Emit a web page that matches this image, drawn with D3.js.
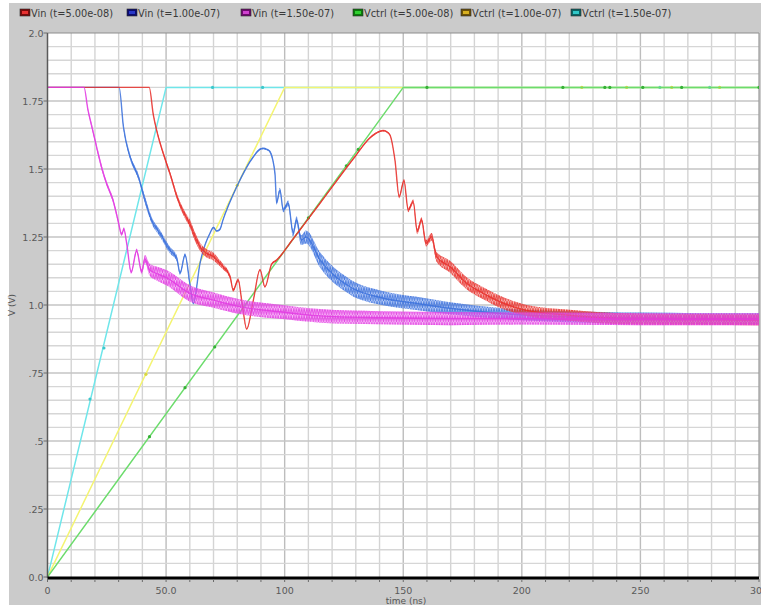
<!DOCTYPE html>
<html>
<head>
<meta charset="utf-8">
<script src="https://cdn.jsdelivr.net/npm/d3@7"></script>
<style>
  html, body { margin: 0; padding: 0; background: #ffffff; }
  svg { display: block; }
  text { font-family: "DejaVu Sans", Verdana, sans-serif; }
</style>
</head>
<body>
<svg id="chart" width="761" height="607"></svg>
<script>
// ---- transient waveforms (time in ns, voltage in V) ----

// Vin, 50 ns ramp case
const vinATime  = [0, 42.9, 44.6, 46.0, 48.8, 51.6, 55.1, 58.0, 60.0, 62.0, 64.3, 67.1, 70.0, 72.0, 74.0, 77.0, 78.3, 80.4, 82.0, 84.0, 86.8, 89.6, 91.7, 94.5, 96.6, 98.0, 102.2, 114.9, 129.6, 136.0, 140.0, 141.6, 143.0, 144.4, 146.5, 148.3, 150.3, 152.1, 154.2, 155.9, 157.7, 159.6, 162.0, 164.0, 169.7, 176.7, 183.7, 190.8, 202.0, 218.9, 233.0, 250.0, 275.0, 300.0];
const vinAValue = [1.80, 1.80, 1.70, 1.643, 1.558, 1.484, 1.386, 1.33, 1.30, 1.255, 1.214, 1.19, 1.178, 1.16, 1.141, 1.104, 1.055, 1.092, 1.01, 0.912, 1.018, 1.129, 1.067, 1.150, 1.165, 1.178, 1.227, 1.374, 1.545, 1.615, 1.638, 1.641, 1.637, 1.625, 1.533, 1.398, 1.457, 1.349, 1.380, 1.270, 1.313, 1.227, 1.251, 1.178, 1.141, 1.080, 1.043, 1.012, 0.980, 0.963, 0.953, 0.948, 0.947, 0.946];
const vinANoise = [0, 0, 0.004, 0.006, 0.006, 0.008, 0.010, 0.012, 0.014, 0.015, 0.015, 0.015, 0.014, 0.012, 0.010, 0.008, 0.006, 0.006, 0.004, 0.003, 0.003, 0.003, 0.003, 0.003, 0.003, 0.003, 0.003, 0.003, 0.003, 0.003, 0.003, 0.003, 0.003, 0.003, 0.004, 0.006, 0.006, 0.008, 0.008, 0.010, 0.010, 0.012, 0.014, 0.018, 0.022, 0.022, 0.022, 0.022, 0.020, 0.020, 0.020, 0.020, 0.020, 0.020];

// Vin, 100 ns ramp case
const vinBTime  = [0, 30.2, 32.0, 34.8, 38.3, 41.1, 44.0, 47.4, 51.6, 54.5, 55.9, 58.0, 60.0, 61.5, 64.3, 68.5, 70.0, 71.3, 72.7, 74.0, 79.8, 86.8, 89.5, 91.0, 93.0, 93.8, 95.9, 96.6, 98.0, 99.4, 101.5, 103.6, 105.0, 107.0, 109.0, 115.0, 127.5, 141.6, 155.6, 169.7, 190.8, 218.9, 250.0, 275.0, 300.0];
const vinBValue = [1.80, 1.80, 1.656, 1.545, 1.472, 1.386, 1.31, 1.264, 1.202, 1.172, 1.117, 1.184, 1.080, 1.006, 1.153, 1.264, 1.285, 1.272, 1.278, 1.313, 1.435, 1.545, 1.572, 1.576, 1.570, 1.564, 1.485, 1.375, 1.423, 1.349, 1.374, 1.264, 1.313, 1.239, 1.250, 1.165, 1.067, 1.025, 1.006, 0.988, 0.969, 0.957, 0.952, 0.950, 0.950];
const vinBNoise = [0, 0, 0.006, 0.008, 0.010, 0.012, 0.012, 0.012, 0.012, 0.010, 0.006, 0.006, 0.005, 0.004, 0.003, 0.003, 0.003, 0.003, 0.003, 0.003, 0.003, 0.003, 0.003, 0.003, 0.003, 0.004, 0.006, 0.006, 0.008, 0.008, 0.010, 0.012, 0.014, 0.018, 0.024, 0.028, 0.028, 0.026, 0.024, 0.022, 0.020, 0.020, 0.020, 0.020, 0.020];

// Vin, 150 ns ramp case
const vinCTime  = [0, 15.4, 17.0, 19.0, 21.0, 23.0, 25.0, 27.6, 29.5, 31.3, 32.2, 33.4, 35.3, 37.6, 39.7, 41.1, 43.0, 46.0, 50.3, 60.0, 70.0, 81.0, 98.0, 115.0, 140.0, 170.0, 200.0, 250.0, 300.0];
const vinCValue = [1.80, 1.80, 1.72, 1.645, 1.57, 1.50, 1.445, 1.386, 1.32, 1.26, 1.28, 1.226, 1.12, 1.20, 1.122, 1.17, 1.13, 1.116, 1.100, 1.043, 1.018, 0.994, 0.975, 0.960, 0.953, 0.950, 0.950, 0.948, 0.948];
const vinCNoise = [0, 0, 0.006, 0.008, 0.008, 0.008, 0.008, 0.008, 0.008, 0.006, 0.006, 0.006, 0.006, 0.008, 0.010, 0.014, 0.022, 0.026, 0.028, 0.030, 0.028, 0.027, 0.026, 0.025, 0.024, 0.024, 0.022, 0.022, 0.022];

// Vctrl ramps (0 -> 1.8 V over 50, 100 and 150 ns)
const ctrlATime  = [0, 50, 300];
const ctrlAValue = [0, 1.8, 1.8];
const ctrlBTime  = [0, 100, 300];
const ctrlBValue = [0, 1.8, 1.8];
const ctrlCTime  = [0, 150, 300];
const ctrlCValue = [0, 1.8, 1.8];

// sample markers on the Vctrl traces
const ctrlAMarkTime  = [17.9, 23.8, 69.6, 90.7, 258.2, 279.2];
const ctrlAMarkValue = [0.654, 0.842, 1.8, 1.8, 1.8, 1.8];
const ctrlBMarkTime  = [41.5, 80.0, 225.3, 244.2, 263.2, 283.4];
const ctrlBMarkValue = [0.745, 1.44, 1.8, 1.8, 1.8, 1.8];
const ctrlCMarkTime  = [43.0, 58.0, 70.5, 110.0, 126.0, 131.0, 160.0, 217.3, 235.0, 237.1, 251.0, 267.4, 300.0];
const ctrlCMarkValue = [0.516, 0.696, 0.846, 1.32, 1.512, 1.572, 1.8, 1.8, 1.8, 1.8, 1.8, 1.8, 1.8];

// legend entries and axis tick labels
const legendNames = ["Vin (t=5.00e-08)", "Vin (t=1.00e-07)", "Vin (t=1.50e-07)",
                     "Vctrl (t=5.00e-08)", "Vctrl (t=1.00e-07)", "Vctrl (t=1.50e-07)"];
const yTickValues = [0, 0.25, 0.5, 0.75, 1.0, 1.25, 1.5, 1.75, 2.0];
const yTickLabels = ["0.0", ".25", ".5", ".75", "1.0", "1.25", "1.5", "1.75", "2.0"];
const xTickValues = [0, 50, 100, 150, 200, 250, 300];
const xTickLabels = ["0", "50.0", "100", "150", "200", "250", "300"];

// ---- drawing ----
const svg = d3.select("#chart");
const W = 761, H = 607;
const plot = { left: 47.5, right: 759, top: 33, bottom: 577 };

const x = d3.scaleLinear().domain([0, 300]).range([plot.left, plot.right]);
const y = d3.scaleLinear().domain([0, 2]).range([plot.bottom, plot.top]);

const defs = svg.append("defs");

// grey window panel
svg.append("rect").attr("x", 9).attr("y", 3).attr("width", W - 9).attr("height", 602)
  .attr("fill", "#cbcbcb");

// plot background
svg.append("rect")
  .attr("x", plot.left).attr("y", plot.top)
  .attr("width", plot.right - plot.left).attr("height", plot.bottom - plot.top)
  .attr("fill", "#ffffff");

// grid
const grid = svg.append("g");
d3.range(10, 300, 10).forEach(t => {
  grid.append("line")
    .attr("x1", x(t)).attr("x2", x(t)).attr("y1", plot.top).attr("y2", plot.bottom)
    .attr("stroke", t % 50 === 0 ? "#bdbdbd" : "#d4d4d4").attr("stroke-width", 1.4);
});
d3.range(1, 40).map(i => i * 0.05).forEach(v => {
  const major = Math.abs(v / 0.25 - Math.round(v / 0.25)) < 1e-6;
  grid.append("line")
    .attr("x1", plot.left).attr("x2", plot.right).attr("y1", y(v)).attr("y2", y(v))
    .attr("stroke", major ? "#c4c4c4" : "#d6d6d6").attr("stroke-width", 1.4);
});

// frame
svg.append("line").attr("x1", plot.left).attr("x2", plot.right)
  .attr("y1", plot.top).attr("y2", plot.top).attr("stroke", "#8e8e8e").attr("stroke-width", 1.2);
svg.append("line").attr("x1", plot.right).attr("x2", plot.right)
  .attr("y1", plot.top).attr("y2", plot.bottom).attr("stroke", "#9a9a9a").attr("stroke-width", 1.2);

// clip for traces
defs.append("clipPath").attr("id", "plotClip").append("rect")
  .attr("x", plot.left).attr("y", plot.top - 2)
  .attr("width", plot.right - plot.left).attr("height", plot.bottom - plot.top + 2);
const traces = svg.append("g").attr("clip-path", "url(#plotClip)");

const line = d3.line().curve(d3.curveMonotoneX).x(d => x(d.t)).y(d => y(d.v));
const band = d3.area().curve(d3.curveMonotoneX)
  .x(d => x(d.t)).y0(d => y(d.v - d.n)).y1(d => y(d.v + d.n));

function zipPts(ts, vs, ns) {
  return ts.map((t, i) => ({ t: t, v: vs[i], n: ns ? ns[i] : 0 }));
}

// Vctrl ramps (drawn beneath the Vin traces): cyan, yellow, then green on top
const ctrlSeries = [
  { t: ctrlATime, v: ctrlAValue, mt: ctrlAMarkTime, mv: ctrlAMarkValue, color: "#6fe6ea", mark: "#3cc8cc" },
  { t: ctrlBTime, v: ctrlBValue, mt: ctrlBMarkTime, mv: ctrlBMarkValue, color: "#f4f472", mark: "#d8d840" },
  { t: ctrlCTime, v: ctrlCValue, mt: ctrlCMarkTime, mv: ctrlCMarkValue, color: "#6cdc6c", mark: "#36b036" }
];
const straight = d3.line().x(d => x(d.t)).y(d => y(d.v));
ctrlSeries.forEach(s => {
  traces.append("path").datum(zipPts(s.t, s.v))
    .attr("d", straight).attr("fill", "none")
    .attr("stroke", s.color).attr("stroke-width", 1.5);
  traces.selectAll(null).data(zipPts(s.mt, s.mv)).enter().append("circle")
    .attr("cx", d => x(d.t)).attr("cy", d => y(d.v)).attr("r", 1.6)
    .attr("fill", s.mark);
});

// Vin traces: noise envelope (zigzag texture) plus centre trace; blue, red, magenta on top
const vinSeries = [
  { id: "vinB", t: vinBTime, v: vinBValue, n: vinBNoise, color: "#3d72dc", fill: "#5a8aea" },
  { id: "vinA", t: vinATime, v: vinAValue, n: vinANoise, color: "#e8302c", fill: "#f05a54" },
  { id: "vinC", t: vinCTime, v: vinCValue, n: vinCNoise, color: "#e23ce2", fill: "#ec5cec" }
];
vinSeries.forEach(s => {
  const pat = defs.append("pattern").attr("id", "hatch-" + s.id)
    .attr("patternUnits", "userSpaceOnUse").attr("width", 2.6).attr("height", 7);
  pat.append("path").attr("d", "M0,0 L1.3,7 L2.6,0")
    .attr("fill", "none").attr("stroke", s.color).attr("stroke-width", 0.9);
});
vinSeries.forEach(s => {
  const pts = zipPts(s.t, s.v, s.n);
  traces.append("path").datum(pts)
    .attr("d", band).attr("fill", s.fill).attr("fill-opacity", 0.45);
  traces.append("path").datum(pts)
    .attr("d", band).attr("fill", "url(#hatch-" + s.id + ")").attr("fill-opacity", 0.85);
  traces.append("path").datum(pts)
    .attr("d", line).attr("fill", "none")
    .attr("stroke", s.color).attr("stroke-width", 1.4).attr("stroke-opacity", 0.85);
});

// axes lines
svg.append("line").attr("x1", plot.left).attr("x2", plot.left)
  .attr("y1", plot.top).attr("y2", plot.bottom + 1).attr("stroke", "#5a5a5a").attr("stroke-width", 1.5);
svg.append("line").attr("x1", plot.left).attr("x2", plot.right)
  .attr("y1", plot.bottom + 1).attr("y2", plot.bottom + 1).attr("stroke", "#000000").attr("stroke-width", 3);

// y ticks
const yAxis = svg.append("g");
yTickValues.forEach((v, i) => {
  yAxis.append("line").attr("x1", plot.left - 4).attr("x2", plot.left)
    .attr("y1", y(v)).attr("y2", y(v)).attr("stroke", "#6a6a6a").attr("stroke-width", 1);
  yAxis.append("text").attr("x", plot.left - 4).attr("y", y(v) + 3.5)
    .attr("text-anchor", "end").attr("font-size", 9.5).attr("fill", "#5a5a5a")
    .text(yTickLabels[i]);
});

// x ticks (minor every 10 ns, labelled every 50 ns)
const xAxis = svg.append("g");
d3.range(0, 301, 10).forEach(t => {
  xAxis.append("line").attr("x1", x(t)).attr("x2", x(t))
    .attr("y1", plot.bottom + 2).attr("y2", plot.bottom + 5).attr("stroke", "#6a6a6a").attr("stroke-width", 1);
});
xTickValues.forEach((t, i) => {
  xAxis.append("text").attr("x", x(t)).attr("y", 594)
    .attr("text-anchor", "middle").attr("font-size", 9.5).attr("fill", "#5a5a5a")
    .text(xTickLabels[i]);
});

// axis titles
svg.append("text").attr("x", 406).attr("y", 604)
  .attr("text-anchor", "middle").attr("font-size", 9).attr("fill", "#555555").text("time (ns)");
svg.append("text").attr("transform", "translate(15,305) rotate(-90)")
  .attr("text-anchor", "middle").attr("font-size", 9).attr("fill", "#555555").text("V (V)");

// legend
const legendFill   = ["#7a0a0a", "#0c0c6e", "#6e0a6e", "#0c7a0c", "#6e5208", "#0a6464"];
const legendStripe = ["#e83030", "#2838c8", "#d040d0", "#30d030", "#d8b020", "#30c8c8"];
const legendX = [20, 127, 241, 353, 461, 571];
const legend = svg.append("g");
legendNames.forEach((name, i) => {
  const g = legend.append("g").attr("transform", `translate(${legendX[i]},13)`);
  g.append("rect").attr("x", 0).attr("y", -4).attr("width", 10).attr("height", 7)
    .attr("fill", legendFill[i]).attr("stroke", "#2a2a2a").attr("stroke-width", 0.6);
  g.append("rect").attr("x", 2).attr("y", -2).attr("width", 6).attr("height", 3)
    .attr("fill", legendStripe[i]);
  g.append("text").attr("x", 11).attr("y", 3.5)
    .attr("font-size", 9.8).attr("fill", "#3a3a3a").text(name);
});
</script>
</body>
</html>
